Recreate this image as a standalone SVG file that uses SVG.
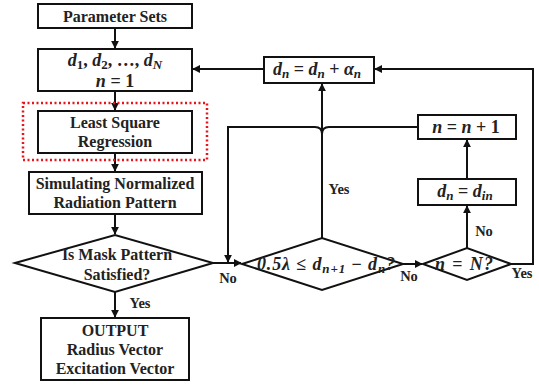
<svg xmlns="http://www.w3.org/2000/svg" width="539" height="388" viewBox="0 0 539 388">
  <style>
    .box { fill: #fff; stroke: #111; stroke-width: 2; }
    .line { fill: none; stroke: #111; stroke-width: 2; }
    text { font-family: "Liberation Serif", "DejaVu Serif", serif; font-weight: bold; fill: #222; text-anchor: middle; }
    .t { font-size: 16px; }
    .m { font-style: italic; font-size: 18px; }
    .up { font-style: normal; }
    .sub { font-size: 13px; }
    .lbl { font-size: 14.5px; }
  </style>
  <defs>
    <marker id="arr" viewBox="0 0 10 10" refX="9" refY="5" markerWidth="4" markerHeight="4" orient="auto-start-reverse">
      <path d="M0,0 L10,5 L0,10 z" fill="#111"/>
    </marker>
  </defs>
  <rect width="539" height="388" fill="#fff"/>

  <!-- connectors -->
  <g id="connectors">
    <path class="line" d="M115,28 V48" marker-end="url(#arr)"/>
    <path class="line" d="M115,91 V110" marker-end="url(#arr)"/>
    <path class="line" d="M115,153 V171" marker-end="url(#arr)"/>
    <path class="line" d="M115,214 V234" marker-end="url(#arr)"/>
    <path class="line" d="M115,292 V317" marker-end="url(#arr)"/>
    <!-- No: mask check to spacing check -->
    <path class="line" d="M213,263 H241" marker-end="url(#arr)"/>
    <!-- return loop from n = n + 1 with a hop over the Yes line -->
    <path class="line" d="M418,127 H329 Q322,127 322,134 Q322,127 315,127 H228 V262" marker-end="url(#arr)"/>
    <!-- Yes: spacing check to d_n update -->
    <path class="line" d="M322,238 V84" marker-end="url(#arr)"/>
    <!-- d_n update back to initial set -->
    <path class="line" d="M264,69 H193" marker-end="url(#arr)"/>
    <!-- No: spacing check to n = N? -->
    <path class="line" d="M403,264 H422" marker-end="url(#arr)"/>
    <path class="line" d="M467,248 V206" marker-end="url(#arr)"/>
    <path class="line" d="M467,179 V140" marker-end="url(#arr)"/>
    <!-- Yes: n = N? back to d_n update -->
    <path class="line" d="M511,264 H533 V69 H375" marker-end="url(#arr)"/>
  </g>

  <g id="param-sets">
    <rect class="box" x="38" y="4" width="154" height="24"/>
    <text class="t" x="115" y="21.5">Parameter Sets</text>
  </g>

  <g id="init">
    <rect class="box" x="38" y="49" width="154" height="42"/>
    <text class="m" x="115" y="66">d<tspan class="sub up" dy="3">1</tspan><tspan class="up" dy="-3">, </tspan>d<tspan class="sub up" dy="3">2</tspan><tspan class="up" dy="-3">, …, </tspan>d<tspan class="sub" dy="3">N</tspan></text>
    <text class="m" x="115" y="87">n<tspan class="up"> = 1</tspan></text>
  </g>

  <g id="lsr">
    <rect x="23" y="103" width="184" height="57" fill="none" stroke="#e8141c" stroke-width="2.5" stroke-dasharray="2 2.5"/>
    <rect class="box" x="38" y="111" width="154" height="42"/>
    <text class="t" x="115" y="128">Least Square</text>
    <text class="t" x="115" y="147">Regression</text>
  </g>

  <g id="simulate">
    <rect class="box" x="29" y="172" width="173" height="42"/>
    <text class="t" x="115" y="189">Simulating Normalized</text>
    <text class="t" x="115" y="208">Radiation Pattern</text>
  </g>

  <g id="mask-check">
    <polygon class="box" points="15,263 115,235 213,263 115,292"/>
    <text class="t" x="117" y="260">Is Mask Pattern</text>
    <text class="t" x="117" y="280">Satisfied?</text>
  </g>

  <g id="output">
    <rect class="box" x="41" y="318" width="148" height="62"/>
    <text class="t" x="115" y="336">OUTPUT</text>
    <text class="t" x="115" y="355">Radius Vector</text>
    <text class="t" x="115" y="374">Excitation Vector</text>
  </g>

  <g id="update">
    <rect class="box" x="264" y="57" width="110" height="26"/>
    <text class="m" x="317" y="75">d<tspan class="sub" dy="3">n</tspan><tspan class="up" dy="-3"> = </tspan>d<tspan class="sub" dy="3">n</tspan><tspan class="up" dy="-3"> + </tspan>α<tspan class="sub" dy="3">n</tspan></text>
  </g>

  <g id="increment">
    <rect class="box" x="418" y="115" width="98" height="24"/>
    <text class="m" x="466" y="133">n<tspan class="up"> = </tspan>n<tspan class="up"> + 1</tspan></text>
  </g>

  <g id="reset">
    <rect class="box" x="418" y="179" width="98" height="26"/>
    <text class="m" x="465" y="197">d<tspan class="sub" dy="3">n</tspan><tspan class="up" dy="-3"> = </tspan>d<tspan class="sub" dy="3">in</tspan></text>
  </g>

  <g id="spacing-check">
    <polygon class="box" points="242,264 322,238 403,264 322,290"/>
    <text class="m" x="326" y="270" textLength="138" lengthAdjust="spacing">0.5λ <tspan class="up">≤ </tspan>d<tspan class="sub" dy="3">n+1</tspan><tspan class="up" dy="-3"> − </tspan>d<tspan class="sub" dy="3">n</tspan><tspan dy="-3">?</tspan></text>
  </g>

  <g id="last-check">
    <polygon class="box" points="423,264 467,248 511,264 467,280"/>
    <text class="m" x="464" y="270" textLength="58" lengthAdjust="spacing">n<tspan class="up"> = </tspan>N?</text>
  </g>

  <g id="labels">
    <text class="lbl" x="228" y="283">No</text>
    <text class="lbl" x="409" y="281">No</text>
    <text class="lbl" x="522" y="278">Yes</text>
    <text class="lbl" x="339" y="194">Yes</text>
    <text class="lbl" x="484" y="236">No</text>
    <text class="lbl" x="140" y="308">Yes</text>
  </g>
</svg>
